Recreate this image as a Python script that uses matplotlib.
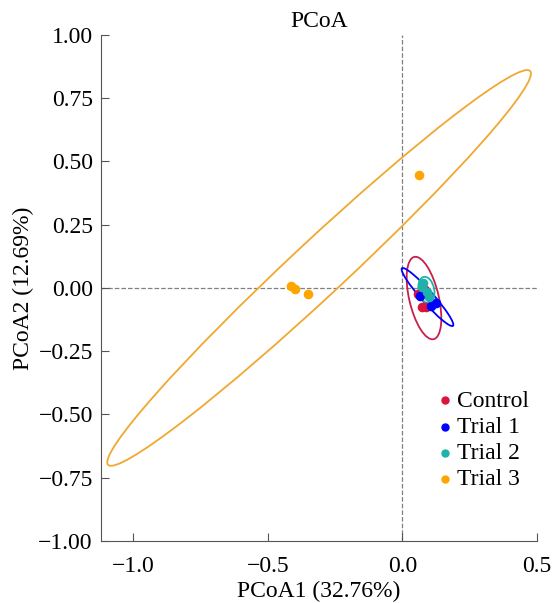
import matplotlib.pyplot as plt
from matplotlib.patches import Ellipse

plt.rcParams['font.family'] = ['Liberation Serif', 'DejaVu Serif']

groups = ['Control', 'Trial 1', 'Trial 2', 'Trial 3']
colors = ['#DC143C', '#0000FF', '#20B2AA', '#FFA500']
ell_colors = ['#C8204A', '#0000FF', '#20B2AA', '#F0A830']

# sample scores (PCoA1, PCoA2)
pc1 = [
    [0.059, 0.074, 0.089, 0.085],
    [0.107, 0.126, 0.067],
    [0.074, 0.093, 0.100, 0.078],
    [-0.415, -0.400, -0.352, 0.063],
]
pc2 = [
    [-0.024, -0.075, -0.075, -0.010],
    [-0.071, -0.059, -0.030],
    [0.004, -0.016, -0.035, 0.020],
    [0.008, -0.004, -0.024, 0.447],
]

# confidence ellipses: center x, center y, major, minor, angle
ell_cx = [0.080, 0.093, 0.089, -0.310]
ell_cy = [-0.040, -0.036, -0.008, 0.079]
ell_w = [0.333, 0.296, 0.105, 2.21]
ell_h = [0.110, 0.045, 0.058, 0.210]
ell_ang = [-77.7, -50.3, -80.0, 44.8]

fig = plt.figure(figsize=(5.53, 6.03), dpi=100)
ax = fig.add_axes([0.183, 0.103, 0.788, 0.839])

ax.axhline(0, color='gray', ls='--', lw=0.9, zorder=0)
ax.axvline(0, color='gray', ls='--', lw=0.9, zorder=0)

for i in range(len(groups)):
    e = Ellipse((ell_cx[i], ell_cy[i]), ell_w[i], ell_h[i], angle=ell_ang[i],
                fill=False, edgecolor=ell_colors[i], lw=1.3)
    ax.add_patch(e)
for i in range(len(groups)):
    ax.scatter(pc1[i], pc2[i], s=35, color=colors[i], label=groups[i], zorder=3)

ax.set_xlim(-1.12, 0.5)
ax.set_ylim(-1.0, 1.0)
ax.set_xticks([-1.0, -0.5, 0.0, 0.5])
ax.set_xticklabels(['\u22121.0', '\u22120.5', '0.0', '0.5'])
ax.set_yticks([-1.0, -0.75, -0.5, -0.25, 0.0, 0.25, 0.5, 0.75, 1.0])
ax.set_yticklabels(['\u22121.00', '\u22120.75', '\u22120.50', '\u22120.25', '0.00',
                    '0.25', '0.50', '0.75', '1.00'])
ax.tick_params(labelsize=17, length=5.5, color='#555555', direction='in')
ax.tick_params(axis='y', pad=6)
ax.tick_params(axis='x', pad=11)
for s in ['left', 'bottom']:
    ax.spines[s].set_color('#555555')
ax.spines['top'].set_visible(False)
ax.spines['right'].set_visible(False)
ax.set_xlabel('PCoA1 (32.76%)', fontsize=17, labelpad=3)
ax.set_ylabel('PCoA2 (12.69%)', fontsize=17, labelpad=3)
ax.set_title('PCoA', fontsize=17, pad=6)

ax.legend(loc='upper left', frameon=False, fontsize=17, handletextpad=0.2,
          borderpad=0, borderaxespad=0, labelspacing=0.2, markerscale=0.85,
          handlelength=0.6, bbox_to_anchor=(0.773, 0.298))

fig.savefig('out.png', dpi=100)
